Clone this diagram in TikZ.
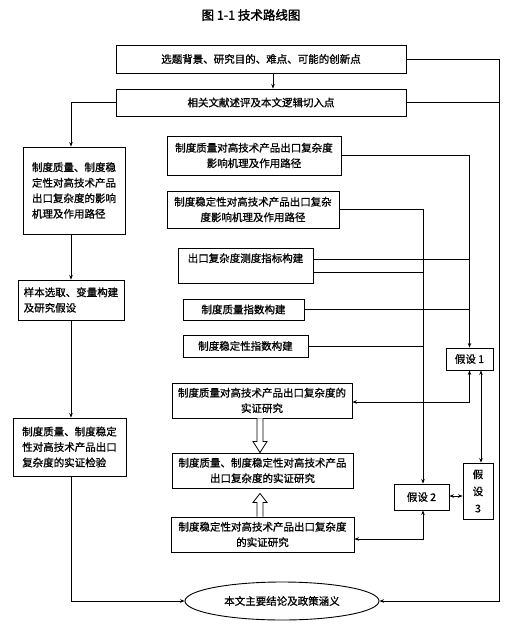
\documentclass[tikz,border=0pt]{standalone}
\usepackage{fontspec}
\newfontfamily\cjk[AutoFakeBold=2]{Noto Sans CJK SC}
\newfontfamily\cjkm[FakeBold=1]{Noto Sans CJK SC}
\usetikzlibrary{calc,shapes.geometric,arrows.meta}
\begin{document}
\begin{tikzpicture}[x=1pt,y=-1pt,
  box/.style={draw,line width=0.9pt,inner sep=0pt,align=center,font=\cjkm\fontsize{10.5}{15.5}\selectfont},
  lbox/.style={box,align=left},
  ln/.style={line width=0.7pt},
  arr/.style={ln,-{Stealth[length=4.5pt,width=3.5pt]}},
  darr/.style={ln,{Stealth[length=4.5pt,width=3.5pt]}-{Stealth[length=4.5pt,width=3.5pt]}},
  hollow/.style={line width=0.8pt,fill=white}]
\useasboundingbox (0,0) rectangle (519,630);
% title
\node[font=\cjk\bfseries\fontsize{12.5}{14}\selectfont] (T) at (251,15) {图 1-1\ 技术路线图};
% top boxes
\node[box,minimum width=290pt,minimum height=28pt] (A) at (261,59) {选题背景、研究目的、难点、可能的创新点};
\node[box,minimum width=290pt,minimum height=27pt] (B) at (261,102.5) {相关文献述评及本文逻辑切入点};
% left column
\node[lbox,minimum width=102pt,minimum height=87pt] (C) at (74,190.5) {制度质量、制度稳\\定性对高技术产品\\出口复杂度的影响\\机理及作用路径};
\node[lbox,minimum width=106pt,minimum height=40pt] (D) at (71,300) {样本选取、变量构建\\及研究假设};
\node[lbox,minimum width=113pt,minimum height=58pt] (E) at (69.5,447) {制度质量、制度稳定\\性对高技术产品出口\\复杂度的实证检验};
% middle column
\node[box,minimum width=174pt,minimum height=39pt] (F) at (254,155.5) {制度质量对高技术产品出口复杂度\\影响机理及作用路径};
\node[box,minimum width=172pt,minimum height=37pt] (G) at (253,209.5) {制度稳定性对高技术产品出口复杂\\度影响机理及作用路径};
\node[box,minimum width=135pt,minimum height=35pt] (H) at (245.5,265.5) {出口复杂度测度指标构建\\\mbox{}};
\node[box,minimum width=121pt,minimum height=21pt] (I) at (243.5,309.5) {制度质量指数构建};
\node[box,minimum width=125pt,minimum height=22pt] (J) at (245.5,346) {制度稳定性指数构建};
\node[box,minimum width=180pt,minimum height=35pt] (L) at (262,400.5) {制度质量对高技术产品出口复杂度的\\实证研究};
\node[box,minimum width=181pt,minimum height=35pt] (M) at (262.5,470.5) {制度质量、制度稳定性对高技术产品\\出口复杂度的实证研究};
\node[box,minimum width=183pt,minimum height=35pt] (N) at (262.5,534.5) {制度稳定性对高技术产品出口复杂度\\的实证研究};
% hypotheses
\node[box,minimum width=47pt,minimum height=22pt] (K) at (469.5,359) {假设 1};
\node[box,minimum width=55pt,minimum height=26pt] (P) at (421.5,497) {假设 2};
\node[box,minimum width=30pt,minimum height=56pt,font=\cjkm\fontsize{10.5}{17}\selectfont] (Q) at (478,491) {假\\设\\3};
% ellipse
\node[draw,ellipse,line width=0.9pt,minimum width=194pt,minimum height=38pt,inner sep=0pt,font=\cjkm\fontsize{10.5}{15.5}\selectfont] (Z) at (282,601) {本文主要结论及政策涵义};
% helper coordinates
\coordinate (Lx) at (71,0);
\coordinate (R) at (499,601);
\coordinate (px) at (423,0);
\coordinate (hx) at (260,0);
\coordinate (a1) at ([xshift=12pt]A.south);
\coordinate (h1) at ([yshift=6.5pt]H.east);
\coordinate (h2) at ([yshift=-6.5pt]H.east);
\coordinate (k2) at ([xshift=11.5pt]K.south);
% top and outer connectors
\draw[arr] (a1) -- (a1 |- B.north);
\draw[arr] (A.east) -| (R) -- (Z.east);
\draw[ln] (B.east) -- (B.east -| R);
\draw[arr] (B.west) -| (Lx |- C.north);
\draw[arr] (Lx |- C.south) -- (Lx |- D.north);
\draw[arr] (Lx |- D.south) -- (Lx |- E.north);
\draw[arr] (Lx |- E.south) |- (Z.west);
% middle connectors
\draw[arr] (F.east) -| (K.north);
\draw[ln] (h1) -- (h1 -| K.north);
\draw[ln] (I.east) -- (I.east -| K.north);
\draw[arr] (G.east) -| (px |- P.north);
\draw[ln] (h2) -- (h2 -| px);
\draw[ln] (J.east) -- (J.east -| px);
\draw[darr] (K.south) |- ([yshift=-1.5pt]L.east);
\draw[darr] (k2) -- (k2 |- Q.north);
\draw[darr] ([yshift=1pt]P.east) -- ([yshift=1pt]P.east -| Q.west);
\draw[darr] (px |- P.south) |- ([yshift=-4.5pt]N.east);
% hollow arrows
\draw[hollow] ($(hx |- L.south)+(-3,0)$) -- ($(hx |- M.north)+(-3,-11)$) -- ++(-4,0) -- (hx |- M.north) -- ($(hx |- M.north)+(7,-11)$) -- ++(-4,0) -- ($(hx |- L.south)+(3,0)$);
\coordinate (ut) at ($(hx |- M.south)+(0,5)$);
\draw[hollow] ($(hx |- N.north)+(-3,0)$) -- ($(ut)+(-3,9)$) -- ++(-4,0) -- (ut) -- ($(ut)+(7,9)$) -- ++(-4,0) -- ($(hx |- N.north)+(3,0)$);
\end{tikzpicture}
\end{document}
